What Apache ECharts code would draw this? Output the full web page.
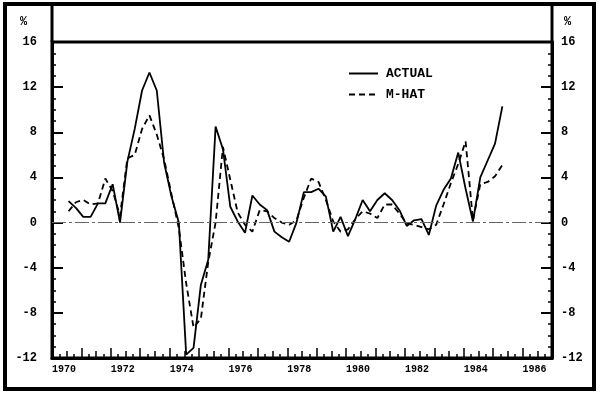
<!DOCTYPE html>
<html>
<head>
<meta charset="utf-8">
<script src="https://cdn.jsdelivr.net/npm/echarts@6/dist/echarts.min.js"></script>
<style>
  html, body { margin: 0; padding: 0; background: #fff; }
  #chart { width: 600px; height: 395px; }
</style>
</head>
<body>
<div id="chart"></div>
<script>
// Quarterly observations (plotted at each quarter)
const quarters = [
  '1970Q3','1970Q4',
  '1971Q1','1971Q2','1971Q3','1971Q4',
  '1972Q1','1972Q2','1972Q3','1972Q4',
  '1973Q1','1973Q2','1973Q3','1973Q4',
  '1974Q1','1974Q2','1974Q3','1974Q4',
  '1975Q1','1975Q2','1975Q3','1975Q4',
  '1976Q1','1976Q2','1976Q3','1976Q4',
  '1977Q1','1977Q2','1977Q3','1977Q4',
  '1978Q1','1978Q2','1978Q3','1978Q4',
  '1979Q1','1979Q2','1979Q3','1979Q4',
  '1980Q1','1980Q2','1980Q3','1980Q4',
  '1981Q1','1981Q2','1981Q3','1981Q4',
  '1982Q1','1982Q2','1982Q3','1982Q4',
  '1983Q1','1983Q2','1983Q3','1983Q4',
  '1984Q1','1984Q2','1984Q3','1984Q4',
  '1985Q1','1985Q2'
];
const actual = [
  1.9, 1.3,
  0.5, 0.5, 1.7, 1.7,
  3.4, 0.0, 5.4, 8.3,
  11.7, 13.3, 11.7, 5.3,
  2.3, 0.0, -11.7, -11.1,
  -5.5, -3.3, 8.5, 6.5,
  1.4, 0.1, -0.9, 2.4,
  1.6, 1.1, -0.8, -1.3,
  -1.7, 0.0, 2.7, 2.7,
  3.0, 2.3, -0.8, 0.5,
  -1.2, 0.3, 2.0, 1.0,
  2.0, 2.6, 2.0, 1.1,
  -0.3, 0.2, 0.3, -1.1,
  1.5, 2.9, 3.9, 6.2,
  3.0, 0.1, 4.0, 5.5,
  7.0, 10.3
];
const mhat = [
  1.0, 1.8,
  2.0, 1.6, 1.7, 3.9,
  2.8, 0.6, 5.7, 6.0,
  8.3, 9.5, 7.8, 5.6,
  2.5, -0.5, -5.4, -9.3,
  -8.5, -3.5, 0.0, 6.7,
  3.8, 0.9, -0.2, -0.8,
  1.1, 1.0, 0.4, 0.0,
  -0.2, 0.2, 2.2, 3.9,
  3.6, 2.0, 0.1, -0.8,
  -0.6, 0.3, 1.0, 0.8,
  0.4, 1.6, 1.6, 0.8,
  -0.1, -0.2, -0.4, -0.6,
  -0.2, 1.6, 3.5, 5.2,
  7.2, 0.2, 3.4, 3.6,
  4.1, 5.1
];
const seriesNames = ['ACTUAL', 'M-HAT'];
const yTicks = [-12, -8, -4, 0, 4, 8, 12, 16];
const xLabelYears = [1970, 1972, 1974, 1976, 1978, 1980, 1982, 1984, 1986];
const unitLabel = '%';

function quarterToYear(q) {
  const y = parseInt(q.slice(0, 4), 10);
  const n = parseInt(q.slice(5), 10);
  return y + (n - 0.75) / 4;
}
const xs = quarters.map(quarterToYear);
const actualData = xs.map((x, i) => [x, actual[i]]);
const mhatData = xs.map((x, i) => [x, mhat[i]]);

const FONT = '"Liberation Mono", "DejaVu Sans Mono", monospace';

const chart = echarts.init(document.getElementById('chart'), null, { renderer: 'canvas' });

const yAxisCommon = {
  type: 'value',
  min: yTicks[0],
  max: yTicks[yTicks.length - 1],
  interval: 4,
  splitLine: { show: false },
  axisLine: { show: true, onZero: false, lineStyle: { color: '#000', width: 3 } },
  axisTick: { show: true, inside: true, length: 11, lineStyle: { color: '#000', width: 2 } },
  minorTick: { show: true, splitNumber: 4, length: 4, lineStyle: { color: '#000', width: 1.5 } },
  minorSplitLine: { show: false }
};

chart.setOption({
  animation: false,
  backgroundColor: '#fff',
  grid: {
    left: 52, right: 48, top: 42, bottom: 37,
    show: true, borderColor: '#000', borderWidth: 3, backgroundColor: 'transparent'
  },
  legend: {
    orient: 'vertical',
    left: 343,
    top: 62,
    itemWidth: 29,
    itemHeight: 14,
    itemGap: 8,
    data: seriesNames,
    itemStyle: { color: 'rgba(0,0,0,0)', borderWidth: 0, opacity: 0 },
    textStyle: { fontFamily: FONT, fontWeight: 'bold', fontSize: 13, color: '#000', padding: [0, 0, 0, 3] }
  },
  xAxis: [
    {
      type: 'value',
      min: 1970,
      max: 1987,
      interval: 1,
      splitLine: { show: false },
      axisLine: { show: true, onZero: false, lineStyle: { color: '#000', width: 3 } },
      axisTick: { show: true, inside: true, length: 10, lineStyle: { color: '#000', width: 1.5 } },
      minorTick: { show: true, splitNumber: 4, length: 4, lineStyle: { color: '#000', width: 1.5 } },
      axisLabel: {
        show: true,
        align: 'left',
        margin: 6,
        fontFamily: FONT,
        fontWeight: 'bold',
        fontSize: 10,
        color: '#000',
        showMaxLabel: false,
        formatter: v => (xLabelYears.indexOf(v) >= 0 ? String(v) : '')
      }
    },
    {
      type: 'value',
      min: 1970,
      max: 1987,
      interval: 0.5,
      position: 'bottom',
      splitLine: { show: false },
      axisLine: { show: false, onZero: false },
      axisTick: { show: true, inside: true, length: 7, lineStyle: { color: '#000', width: 1.5 } },
      axisLabel: { show: false }
    }
  ],
  yAxis: [
    Object.assign({}, yAxisCommon, {
      position: 'left',
      axisLabel: {
        margin: 15, fontFamily: FONT, fontWeight: 'bold', fontSize: 12, color: '#000',
        formatter: v => String(v)
      }
    }),
    Object.assign({}, yAxisCommon, {
      position: 'right',
      axisLabel: {
        margin: 9, fontFamily: FONT, fontWeight: 'bold', fontSize: 12, color: '#000',
        formatter: v => String(v)
      }
    })
  ],
  graphic: [
    { type: 'rect', silent: true, shape: { x: 5, y: 4, width: 589, height: 385 },
      style: { fill: 'none', stroke: '#000', lineWidth: 4 } },
    { type: 'line', silent: true, shape: { x1: 52, y1: 4, x2: 52, y2: 42 },
      style: { stroke: '#000', lineWidth: 3 } },
    { type: 'line', silent: true, shape: { x1: 552, y1: 4, x2: 552, y2: 42 },
      style: { stroke: '#000', lineWidth: 3 } },
    { type: 'text', silent: true, left: 20, top: 16,
      style: { text: unitLabel, font: 'bold 12px ' + FONT, fill: '#000' } },
    { type: 'text', silent: true, left: 564, top: 16,
      style: { text: unitLabel, font: 'bold 12px ' + FONT, fill: '#000' } }
  ],
  series: [
    {
      name: seriesNames[0],
      type: 'line',
      xAxisIndex: 0,
      yAxisIndex: 0,
      data: actualData,
      symbol: 'none',
      color: '#000',
      lineStyle: { color: '#000', width: 1.8, type: 'solid' },
      z: 3,
      markLine: {
        silent: true,
        symbol: ['none', 'none'],
        label: { show: false },
        lineStyle: { color: '#666', width: 1, type: [14, 3, 3, 3] },
        data: [{ yAxis: 0 }]
      }
    },
    {
      name: seriesNames[1],
      type: 'line',
      xAxisIndex: 0,
      yAxisIndex: 0,
      data: mhatData,
      symbol: 'none',
      color: '#000',
      lineStyle: { color: '#000', width: 1.8, type: [6, 4] },
      z: 3
    }
  ]
});
</script>
</body>
</html>
